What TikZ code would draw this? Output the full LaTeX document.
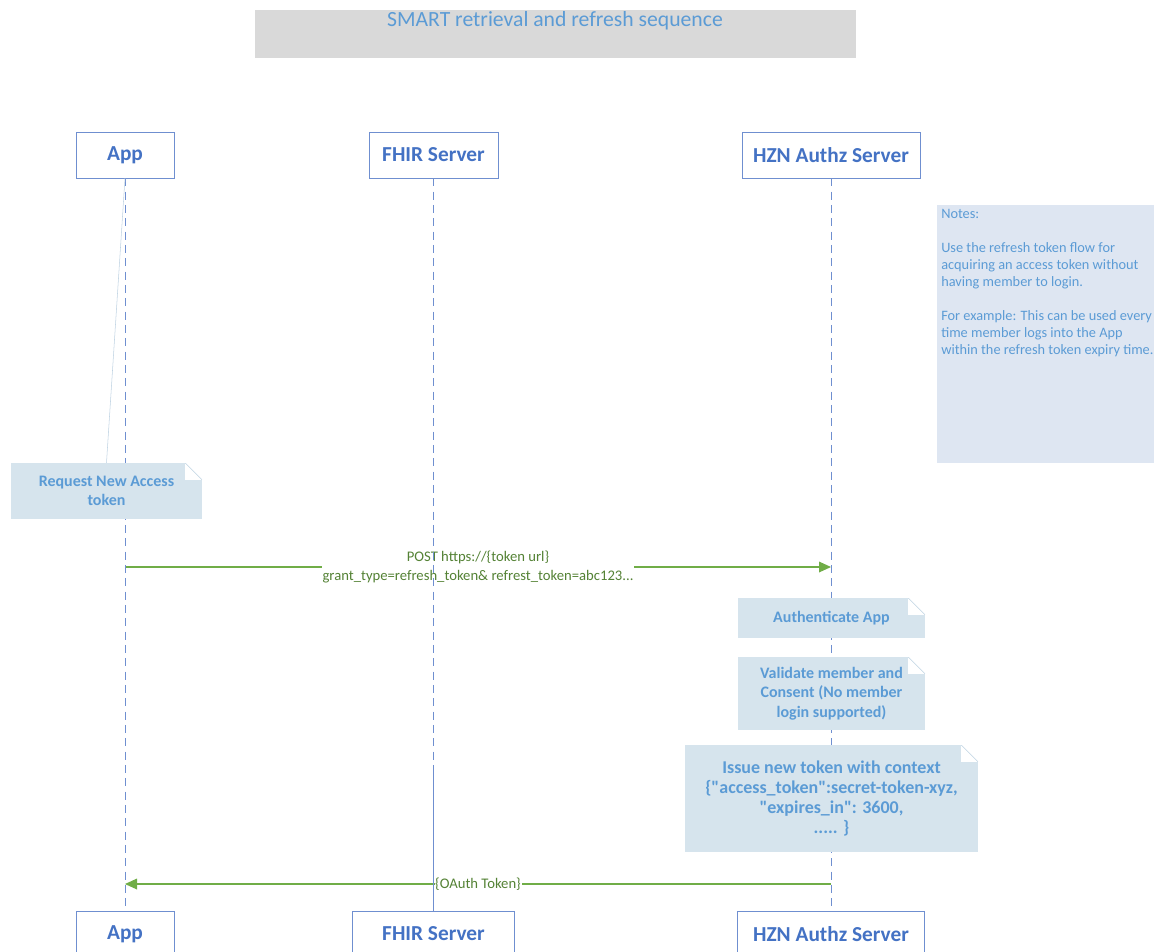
\documentclass[tikz,border=0pt]{standalone}
\usepackage{fontspec}
\setmainfont{Carlito}
\usetikzlibrary{arrows.meta,calc}
\definecolor{smartBlue}{RGB}{68,114,196}
\definecolor{smartLine}{RGB}{111,143,208}
\definecolor{smartText}{RGB}{91,155,213}
\definecolor{smartNote}{RGB}{214,228,237}
\definecolor{smartFold}{RGB}{190,210,226}
\definecolor{smartPanel}{RGB}{222,230,242}
\definecolor{smartGray}{RGB}{217,217,217}
\definecolor{smartGreen}{RGB}{112,173,71}
\definecolor{smartGreenText}{RGB}{84,130,53}

\begin{document}
\begin{tikzpicture}[x=0.75pt,y=-0.75pt]
    \tikzstyle{actor} = [draw=smartLine, fill=white, minimum height=34.5pt, inner sep=0pt, text=smartBlue, font=\fontsize{16}{19}\selectfont\bfseries]
    \tikzstyle{note} = [fill=smartNote, inner sep=0pt, align=center, text=smartText, font=\fontsize{12}{14.5}\selectfont\bfseries,
        path picture={
            \fill[white] ($(path picture bounding box.north east)+(-12.5pt,0)$) rectangle ($(path picture bounding box.north east)+(0,-12.5pt)$);
            \draw[smartFold] ($(path picture bounding box.north east)+(-12.5pt,0)$) -- ($(path picture bounding box.north east)+(0,-12.5pt)$);
        }]
    \tikzstyle{lifeline} = [smartLine, line width=0.75pt, dash pattern=on 6pt off 4pt]
    \tikzstyle{msg} = [smartGreen, line width=0.9pt, -{Triangle[length=9pt,width=8pt]}]
    \tikzstyle{msglabel} = [fill=white, inner sep=0.5pt, align=center, text=smartGreenText]
    \useasboundingbox (0,0) rectangle (1154,951);

    % title
    \node[fill=smartGray, minimum width=450.75pt, minimum height=36pt] (title) at (555.5,34) {};
    \node[text=smartText, font=\fontsize{16.25}{19}\selectfont] (titletext) at (555,21) {SMART retrieval and refresh sequence};

    % participants
    \node[actor, minimum width=73.5pt] (app) at (125,155) {App};
    \node[actor, minimum width=96.75pt] (fhir) at (433.5,155) {FHIR Server};
    \node[actor, minimum width=133.5pt] (hzn) at (831,155) {HZN Authz Server};
    \node[actor, minimum width=73.5pt] (appb) at (125,934) {App};
    \node[actor, minimum width=121.5pt] (fhirb) at (433.5,934) {FHIR Server};
    \node[actor, minimum width=140.25pt] (hznb) at (831,934) {HZN Authz Server};

    % messages
    \coordinate (m1) at (0,567);
    \coordinate (m2) at (0,884);
    \draw[msg] (app |- m1) -- node[msglabel, font=\fontsize{11}{14.25}\selectfont] (postlabel) {POST https://\{token url\}\\grant\_type=refresh\_token\& refrest\_token=abc123...} (hzn |- m1);
    \draw[msg] (hzn |- m2) -- node[msglabel, font=\fontsize{11}{12}\selectfont] (tokenlabel) {\{OAuth Token\}} (app |- m2);

    % lifelines
    \coordinate (split) at (0,770);
    \draw[lifeline] (app.south) -- (appb.north);
    \draw[lifeline] (fhir.south) -- (fhir |- split);
    \draw[smartLine, line width=0.75pt] (fhir |- split) -- (fhirb.north);
    \draw[lifeline] (hzn.south) -- (hznb.north);

    % notes
    \node[note, minimum width=143.25pt, minimum height=42pt] (reqnote) at (106.5,491) {Request New Access\\token};
    \draw[smartFold] (reqnote.north) -- (app.south);
    \node[note, minimum width=140.25pt, minimum height=30pt] (authnote) at (831.5,618) {Authenticate App};
    \node[note, minimum width=140.25pt, minimum height=54.75pt] (validnote) at (831.5,693.5) {Validate member and\\Consent (No member\\login supported)};
    \node[note, minimum width=219.75pt, minimum height=80.25pt, font=\fontsize{13.5}{15}\selectfont\bfseries] (issuenote) at (831.5,798.5) {Issue new token with context\\\{\textquotedbl access\_token\textquotedbl:secret-token-xyz,\\\textquotedbl expires\_in\textquotedbl: 3600,\\..... \}};

    % side panel
    \node[fill=smartPanel, minimum width=162.75pt, minimum height=193.5pt] (panel) at (1045.5,334) {};
    \node[anchor=north west, inner sep=0pt, align=left, text=smartText, font=\fontsize{10.75}{12.75}\selectfont] (paneltext) at (941,209) {Notes:\\[12.75pt]Use the refresh token flow for\\acquiring an access token without\\having member to login.\\[12.75pt]For example: This can be used every\\time member logs into the App\\within the refresh token expiry time.};
\end{tikzpicture}
\end{document}
